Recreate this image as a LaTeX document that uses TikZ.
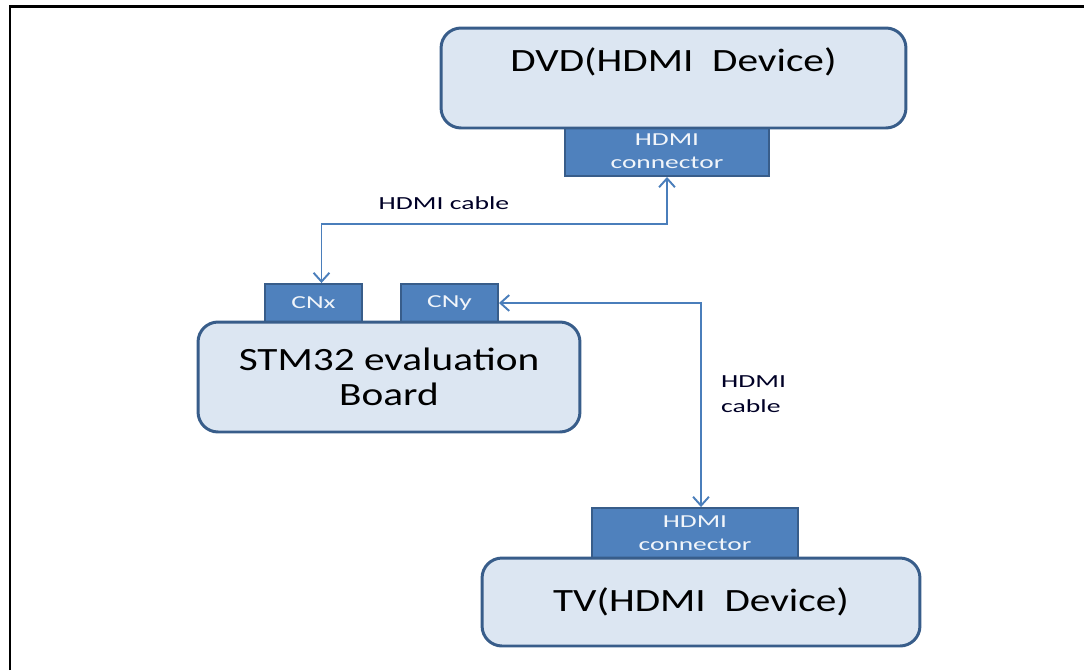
\documentclass[tikz,border=0pt]{standalone}
\usepackage{fontspec}
\setmainfont{Carlito}
\newfontfamily\bigfont[FakeStretch=1.27]{Carlito}
\newfontfamily\smallfont[FakeStretch=1.5]{Carlito}
\usetikzlibrary{arrows.meta}

\definecolor{boxfill}{HTML}{DCE6F2}
\definecolor{boxline}{HTML}{385D8A}
\definecolor{portfill}{HTML}{4F81BD}
\definecolor{cableline}{HTML}{4A7EBB}

\tikzset{
	devbox/.style={draw=boxline, fill=boxfill, line width=1.7pt, rounded corners=0.4cm,
		align=center, inner sep=0pt, font=\bigfont\fontsize{18.5}{20}\selectfont},
	port/.style={draw=boxline, fill=portfill, line width=1.1pt, text=white!92!portfill,
		align=center, inner sep=0pt, font=\smallfont\fontsize{10.4}{13}\selectfont},
	cable/.style={draw=cableline, line width=1.1pt,
		{Straight Barb[length=5pt,width=9pt]}-{Straight Barb[length=5pt,width=9pt]}},
	note/.style={font=\smallfont\fontsize{10.5}{14}\selectfont, text=black!85!blue}
}

\begin{document}
\begin{tikzpicture}[x=0.02cm,y=-0.02cm]
	\useasboundingbox (0,0) rectangle (1084,670);
	% frame
	\draw[line width=1.7pt] (10,670)--(10,6.5)--(1084,6.5);
	% connectors first, the boxes go over them
	\node[port, minimum width=4.08cm, minimum height=0.98cm] (dvdport) at (667,151.5) {HDMI\\connector};
	\node[port, minimum width=1.94cm, minimum height=0.76cm] (cnx) at (313.5,303) {CNx};
	\node[port, minimum width=1.94cm, minimum height=0.76cm] (cny) at (449.5,303) {CNy};
	\node[port, minimum width=4.12cm, minimum height=1cm] (tvport) at (695,533) {HDMI\\connector};
	% devices
	\node[devbox, minimum width=9.3cm, minimum height=2cm,
		label={[font=\bigfont\fontsize{18.5}{20}\selectfont, yshift=0.32cm]center:DVD(HDMI\ \ Device)}] (dvd) at (673.5,78) {};
	\node[devbox, minimum width=7.64cm, minimum height=2.2cm] (board) at (389,377) {STM32 evaluation\\Board};
	\node[devbox, minimum width=8.76cm, minimum height=1.76cm] (tv) at (701,602) {TV(HDMI\ \ Device)};
	% cables
	\coordinate (bendA) at (0,224);
	\coordinate (bendB) at (701,0);
	\draw[cable] ([xshift=0.16cm]cnx.north) |- (dvdport.south |- bendA) -- (dvdport.south);
	\draw[cable] (cny.east) -| (bendB |- tvport.north);
	\node[note] (cableA) at (444,203) {HDMI cable};
	\node[note, align=left, anchor=west] (cableB) at (715,394) {HDMI\\cable};
\end{tikzpicture}
\end{document}
